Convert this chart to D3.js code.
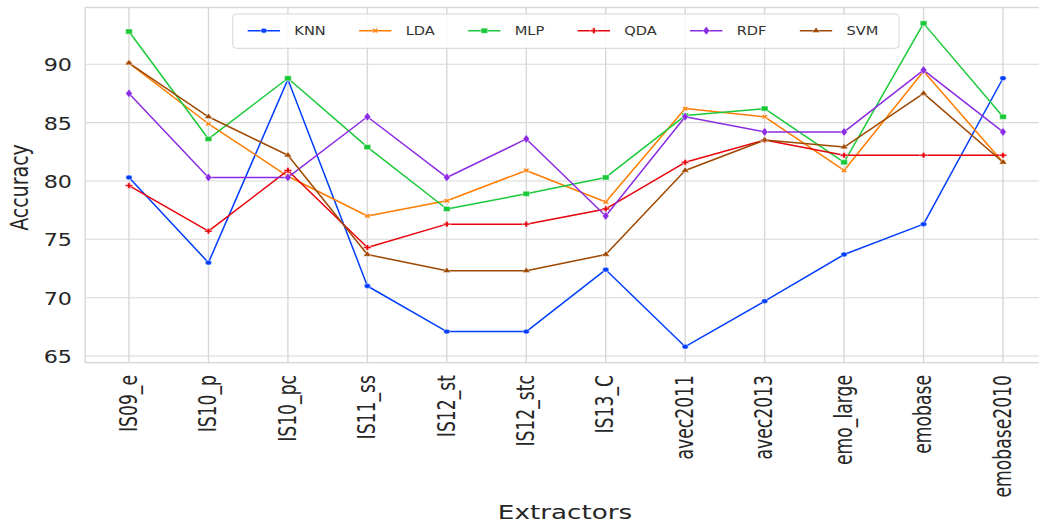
<!DOCTYPE html>
<html>
<head>
<meta charset="utf-8">
<script src="https://cdn.jsdelivr.net/npm/d3@7"></script>
<style>
  html, body { margin: 0; padding: 0; background: #ffffff; overflow: hidden; }
  text { font-family: "DejaVu Sans", sans-serif; }
</style>
</head>
<body>
<svg id="chart" width="1039" height="523"></svg>
<script>
const categories = ["IS09_e","IS10_p","IS10_pc","IS11_ss","IS12_st","IS12_stc","IS13_C","avec2011","avec2013","emo_large","emobase","emobase2010"];
const seriesNames = ["KNN","LDA","MLP","QDA","RDF","SVM"];
const knn = [80.3, 73.0, 88.7, 71.0, 67.1, 67.1, 72.4, 65.8, 69.7, 73.7, 76.3, 88.8];
const lda = [90.1, 84.9, 80.4, 77.0, 78.3, 80.9, 78.2, 86.2, 85.5, 80.9, 89.4, 81.6];
const mlp = [92.8, 83.6, 88.8, 82.9, 77.6, 78.9, 80.3, 85.6, 86.2, 81.6, 93.5, 85.5];
const qda = [79.6, 75.7, 80.9, 74.3, 76.3, 76.3, 77.6, 81.6, 83.5, 82.2, 82.2, 82.2];
const rdf = [87.5, 80.3, 80.3, 85.5, 80.3, 83.6, 77.0, 85.5, 84.2, 84.2, 89.5, 84.2];
const svm = [90.1, 85.5, 82.2, 73.7, 72.3, 72.3, 73.7, 80.9, 83.5, 82.9, 87.5, 81.6];
const yTicks = [65, 70, 75, 80, 85, 90];
const xTitle = "Extractors";
const yTitle = "Accuracy";

const seriesValues = [knn, lda, mlp, qda, rdf, svm];
const colors = ["#023eff", "#ff7c00", "#1ac938", "#e8000b", "#8b2be2", "#9f4800"];
const markerTypes = [d3.symbolCircle, d3.symbolCross, d3.symbolSquare, d3.symbolCross, d3.symbolDiamond, d3.symbolTriangle];
const markerSizes = [18, 14, 26, 18, 22, 16];
const markerRot = [0, 45, 0, 0, 0, 0];

const svg = d3.select("#chart");
const plot = { left: 85.3, right: 1046.7, top: 7.5, bottom: 362.7 };
const SX = 1.31; // horizontal stretch of the original image

const x = d3.scalePoint().domain(categories).range([plot.left, plot.right]).padding(0.55);
const y = d3.scaleLinear().domain([64.43, 94.86]).range([plot.bottom, plot.top]);

const gridColor = "#d8d8d8";
const g = svg.append("g");

// horizontal grid
g.selectAll("line.hgrid").data(yTicks).join("line")
  .attr("x1", plot.left).attr("x2", plot.right)
  .attr("y1", d => y(d)).attr("y2", d => y(d))
  .attr("stroke", gridColor).attr("stroke-width", 1.1);
// vertical grid
g.selectAll("line.vgrid").data(categories).join("line")
  .attr("x1", d => x(d)).attr("x2", d => x(d))
  .attr("y1", plot.top).attr("y2", plot.bottom)
  .attr("stroke", gridColor).attr("stroke-width", 1.4);
// spines
g.append("rect").attr("x", plot.left).attr("y", plot.top)
  .attr("width", plot.right - plot.left).attr("height", plot.bottom - plot.top)
  .attr("fill", "none").attr("stroke", gridColor).attr("stroke-width", 1.4);

// y tick labels
g.selectAll("text.ytick").data(yTicks).join("text")
  .attr("transform", d => `translate(72,${y(d) + 7}) scale(${SX},1)`)
  .attr("text-anchor", "end").attr("font-size", 17).attr("fill", "#262626")
  .text(d => d);

// x tick labels
g.selectAll("text.xtick").data(categories).join("text")
  .attr("transform", d => `translate(${x(d)},375) rotate(-90) scale(0.86,1.28)`)
  .attr("text-anchor", "end").attr("y", 6).attr("font-size", 20).attr("fill", "#262626")
  .text(d => d);

// axis titles
svg.append("text").attr("transform", `translate(27.5,187.5) rotate(-90) scale(1,1.3)`)
  .attr("text-anchor", "middle").attr("font-size", 19).attr("fill", "#262626").text(yTitle);
svg.append("text").attr("transform", `translate(565,519) scale(1.38,1)`)
  .attr("text-anchor", "middle").attr("font-size", 19).attr("fill", "#262626").text(xTitle);

// lines
const line = d3.line().x((d, i) => x(categories[i])).y(d => y(d));
function drawMarker(sel, i, cx, cy) {
  sel.append("path")
    .attr("d", d3.symbol().type(markerTypes[i]).size(markerSizes[i])())
    .attr("transform", `translate(${cx},${cy}) scale(${SX},1) rotate(${markerRot[i]})`)
    .attr("fill", colors[i]).attr("stroke", "#ffffff").attr("stroke-width", 0.4);
}
seriesValues.forEach((vals, i) => {
  const sg = svg.append("g");
  sg.append("path").datum(vals).attr("d", line)
    .attr("fill", "none").attr("stroke", colors[i]).attr("stroke-width", 1.5)
    .attr("stroke-linejoin", "round");
  vals.forEach((v, j) => drawMarker(sg, i, x(categories[j]), y(v)));
});

// legend
const leg = svg.append("g");
const legBox = leg.append("rect").attr("x", 232.7).attr("y", 14).attr("height", 34.3)
  .attr("rx", 3.5).attr("fill", "#ffffff").attr("fill-opacity", 0.85)
  .attr("stroke", "#d6d6d6").attr("stroke-width", 1);
let cursor = 247.7;
const legY = 30.7;
seriesNames.forEach((name, i) => {
  leg.append("line").attr("x1", cursor).attr("x2", cursor + 32.3)
    .attr("y1", legY).attr("y2", legY).attr("stroke", colors[i]).attr("stroke-width", 1.5);
  drawMarker(leg, i, cursor + 16.2, legY);
  const t = leg.append("text")
    .attr("transform", `translate(${cursor + 46.6},${legY + 4.5}) scale(1.22,1)`)
    .attr("font-size", 12).attr("fill", "#333333").text(name);
  const w = t.node().getComputedTextLength() * 1.22;
  cursor = cursor + 46.6 + w + 33.3;
});
legBox.attr("width", 899 - 232.7);
</script>
</body>
</html>
